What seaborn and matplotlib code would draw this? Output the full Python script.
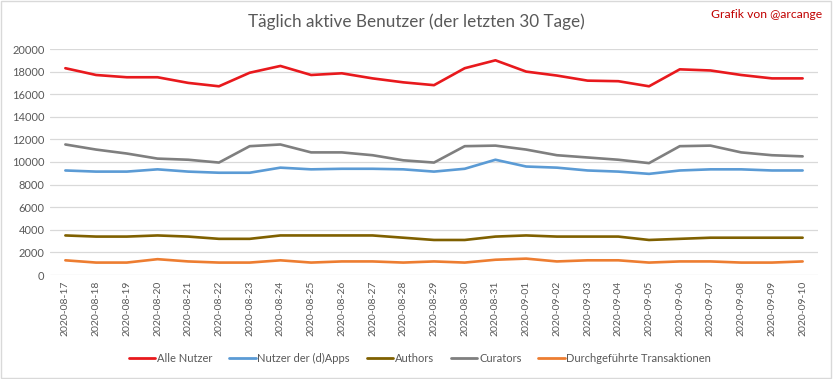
import matplotlib
matplotlib.use("Agg")
import matplotlib.pyplot as plt
import seaborn as sns
import pandas as pd
from matplotlib.patches import Rectangle

dates = ["2020-08-17", "2020-08-18", "2020-08-19", "2020-08-20", "2020-08-21",
         "2020-08-22", "2020-08-23", "2020-08-24", "2020-08-25", "2020-08-26",
         "2020-08-27", "2020-08-28", "2020-08-29", "2020-08-30", "2020-08-31",
         "2020-09-01", "2020-09-02", "2020-09-03", "2020-09-04", "2020-09-05",
         "2020-09-06", "2020-09-07", "2020-09-08", "2020-09-09", "2020-09-10"]

alle_nutzer = [18300, 17700, 17500, 17500, 17000, 16700, 17900, 18500, 17700, 17850,
               17400, 17050, 16800, 18300, 19000, 18000, 17650, 17200, 17150, 16700,
               18200, 18100, 17700, 17400, 17400]
nutzer_dapps = [9250, 9150, 9150, 9350, 9150, 9050, 9050, 9500, 9350, 9400,
                9400, 9350, 9150, 9400, 10200, 9600, 9500, 9250, 9150, 8950,
                9250, 9350, 9350, 9250, 9250]
authors = [3500, 3400, 3400, 3500, 3400, 3200, 3200, 3500, 3500, 3500,
           3500, 3300, 3100, 3100, 3400, 3500, 3400, 3400, 3400, 3100,
           3200, 3300, 3300, 3300, 3300]
curators = [11550, 11100, 10750, 10300, 10200, 9950, 11400, 11550, 10850, 10850,
            10600, 10150, 9950, 11400, 11450, 11100, 10600, 10400, 10200, 9900,
            11400, 11450, 10850, 10600, 10500]
transaktionen = [1300, 1100, 1100, 1400, 1200, 1100, 1100, 1300, 1100, 1200,
                 1200, 1100, 1200, 1100, 1350, 1450, 1200, 1300, 1300, 1100,
                 1200, 1200, 1100, 1100, 1200]

series_names = ["Alle Nutzer", "Nutzer der (d)Apps", "Authors", "Curators",
                "Durchgeführte Transaktionen"]
series_values = [alle_nutzer, nutzer_dapps, authors, curators, transaktionen]
colors = ["#e8191d", "#5b9bd5", "#7f6000", "#7f7f7f", "#ed7d31"]

rows = []
for name, vals in zip(series_names, series_values):
    for i, (d, v) in enumerate(zip(dates, vals)):
        rows.append({"Datum": d, "pos": i, "Wert": v, "Serie": name})
df = pd.DataFrame(rows)

sns.set_theme(style="white")
plt.rcParams['font.family'] = ['Lato', 'DejaVu Sans']

fig = plt.figure(figsize=(8.33, 3.79), dpi=100)
ax = fig.add_axes([50/833, 1-275/379, (818-50)/833, (275-49)/379])

sns.lineplot(data=df, x="pos", y="Wert", hue="Serie", hue_order=series_names,
             palette=colors, linewidth=1.9, ax=ax, legend=False, sort=False)

ax.set_xlim(-0.5, len(dates) - 0.5)
ax.set_ylim(0, 20000)
ax.set_yticks(range(0, 20001, 2000))
ax.set_yticklabels([str(v) for v in range(0, 20001, 2000)], fontsize=8, color="#595959")
ax.set_xticks(range(len(dates)))
ax.set_xticklabels(dates, rotation=90, fontsize=7.5, color="#595959")
ax.tick_params(axis='both', length=0, pad=4)
ax.grid(axis='y', color="#d9d9d9", linewidth=0.9)
ax.set_axisbelow(True)
for s in ax.spines.values():
    s.set_visible(False)
ax.set_xlabel("")
ax.set_ylabel("")

fig.text(416/833, 1-22/379, "Täglich aktive Benutzer (der letzten 30 Tage)",
         ha="center", va="center", fontsize=12.3, color="#595959")
fig.text(822/833, 1-15/379, "Grafik von @arcange", ha="right", va="center",
         fontsize=8.7, color="#c00000")

handles = [plt.Line2D([0], [0], color=c, linewidth=2.0) for c in colors]
fig.legend(handles, series_names, loc="center", bbox_to_anchor=(420/833, 1-358/379),
           ncol=5, frameon=False, fontsize=8, handlelength=2.4, handletextpad=0.15,
           columnspacing=1.5, labelcolor="#595959")

fig.patches.append(Rectangle((0.001, 0.002), 0.997, 0.996, transform=fig.transFigure,
                             fill=False, edgecolor="#d9d9d9", linewidth=1.0))

fig.savefig("out.png", dpi=100, facecolor="white")
